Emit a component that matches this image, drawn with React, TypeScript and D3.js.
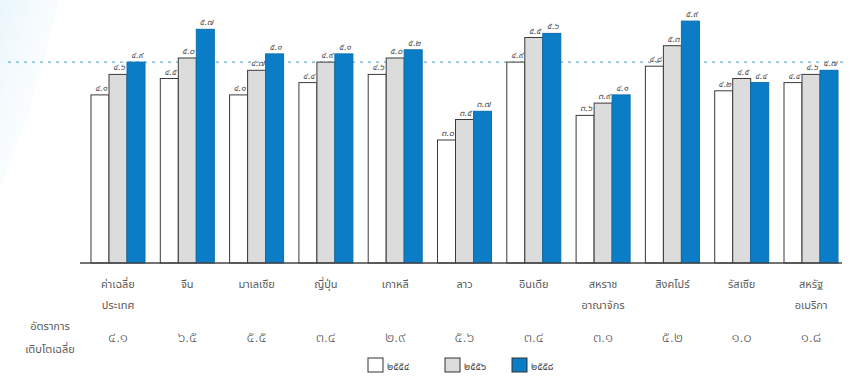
import React from "react";
import * as d3 from "d3";

const categories = [
  ["ค่าเฉลี่ย", "ประเทศ"],
  ["จีน"],
  ["มาเลเซีย"],
  ["ญี่ปุ่น"],
  ["เกาหลี"],
  ["ลาว"],
  ["อินเดีย"],
  ["สหราช", "อาณาจักร"],
  ["สิงคโปร์"],
  ["รัสเซีย"],
  ["สหรัฐ", "อเมริกา"],
];
const years = ["๒๕๕๔", "๒๕๕๖", "๒๕๕๘"];
const v2554 = [4.1, 4.5, 4.1, 4.4, 4.6, 3.0, 4.9, 3.6, 4.8, 4.2, 4.4];
const v2556 = [4.6, 5.0, 4.7, 4.9, 5.0, 3.5, 5.5, 3.9, 5.3, 4.5, 4.6];
const v2558 = [4.9, 5.7, 5.1, 5.1, 5.2, 3.7, 5.6, 4.1, 5.9, 4.4, 4.7];
const growth = [4.1, 6.5, 5.5, 3.4, 2.9, 5.6, 3.4, 3.1, 5.2, 1.0, 1.8];
const series = [v2554, v2556, v2558];

const thaiDigits = "๐๑๒๓๔๕๖๗๘๙";
const toThai = (s: string) => s.replace(/[0-9]/g, (d) => thaiDigits[+d]);
const fmt = (v: number) => toThai(v.toFixed(1));

const FONT = "'Noto Sans Thai', 'Loma', 'Garuda', 'Tlwg Typo', 'Noto Sans', sans-serif";
const fills = ["#ffffff", "#dcdcdc", "#0a7dc6"];
const strokes = ["#3a3a3a", "#3a3a3a", "#0a6eae"];

export default function App() {
  const W = 853, H = 376;
  const baseline = 263;
  const x = d3.scalePoint<number>().domain(d3.range(categories.length)).range([118, 811]);
  const y = d3.scaleLinear().domain([0, 6]).range([baseline, baseline - 246]);
  const bw = 18;
  const avgLineY = y(v2558[0]);

  return (
    <svg width={W} height={H} style={{ position: "absolute", left: 0, top: 0, background: "#fff" }} fontFamily={FONT}>
      <defs>
        <linearGradient id="lg" x1="0" x2="1" y1="0" y2="1">
          <stop offset="0" stopColor="#d8eef8" stopOpacity="0.8" />
          <stop offset="1" stopColor="#ffffff" stopOpacity="0" />
        </linearGradient>
      </defs>
      <path d="M0,0 L60,0 L30,110 L0,190 Z" fill="url(#lg)" opacity={0.7} />
      <line x1={8} x2={848} y1={avgLineY} y2={avgLineY} stroke="#6aaed6" strokeWidth={1.2} strokeDasharray="3,5" />
      {categories.map((_, i) => (
        <g key={i}>
          {series.map((s, j) => {
            const bx = (x(i) as number) - 1.5 * bw + j * bw;
            const top = y(s[i]);
            return (
              <g key={j}>
                <rect x={bx} y={top} width={bw} height={baseline - top} fill={fills[j]} stroke={strokes[j]} strokeWidth={1} />
                <text x={bx + bw / 2 + 1} y={top - 4} textAnchor="middle" fontSize={9} fill="#555" fontStyle="italic">
                  {fmt(s[i])}
                </text>
              </g>
            );
          })}
        </g>
      ))}
      <line x1={80} x2={842} y1={baseline} y2={baseline} stroke="#444" strokeWidth={1.3} />
      {categories.map((lines, i) =>
        lines.map((t, k) => (
          <text key={i + "-" + k} x={x(i) as number} y={288 + k * 21} textAnchor="middle" fontSize={11} fill="#5a5a5a">
            {t}
          </text>
        ))
      )}
      <text x={50} y={330} textAnchor="middle" fontSize={11} fill="#5a5a5a">อัตราการ</text>
      <text x={50} y={353} textAnchor="middle" fontSize={11} fill="#5a5a5a">เติบโตเฉลี่ย</text>
      {growth.map((g, i) => (
        <text key={i} x={x(i) as number} y={342} textAnchor="middle" fontSize={15} fill="#5a5a5a" fontWeight={300}>
          {fmt(g)}
        </text>
      ))}
      {years.map((yr, j) => {
        const lx = [368, 445, 512][j];
        return (
          <g key={j}>
            <rect x={lx} y={358} width={15} height={14} fill={fills[j]} stroke="#333" strokeWidth={1} />
            <text x={lx + 19} y={370} fontSize={10} fill="#444">{yr}</text>
          </g>
        );
      })}
    </svg>
  );
}
